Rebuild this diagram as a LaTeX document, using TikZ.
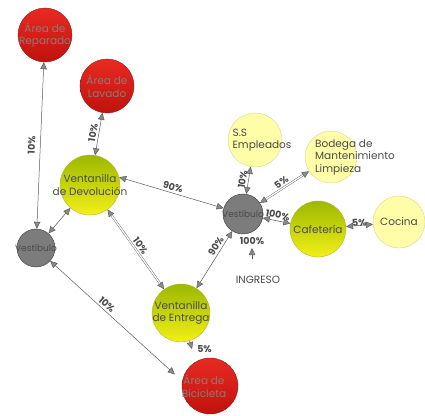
\documentclass[tikz,border=0pt]{standalone}
\usepackage{fontspec}
\setmainfont{Poppins}
\usetikzlibrary{arrows.meta, positioning}

\definecolor{rojoarriba}{HTML}{E82A22}
\definecolor{rojoabajo}{HTML}{C0120C}
\definecolor{rojoborde}{HTML}{8A1A14}
\definecolor{verdearriba}{HTML}{9CB800}
\definecolor{verdeabajo}{HTML}{F2F018}
\definecolor{verdeborde}{HTML}{B9B230}
\definecolor{crema}{HTML}{FFFDA8}
\definecolor{cremaborde}{HTML}{D9D68A}
\definecolor{grisbola}{HTML}{7C7C7C}
\definecolor{grisborde}{HTML}{3A3A3A}
\definecolor{linea}{HTML}{5A5A5A}
\definecolor{punta}{HTML}{8A8A8A}
\definecolor{texto}{HTML}{4A4A4A}
\definecolor{textorojo}{HTML}{8C7A78}

\tikzset{
    esfera/.style={circle, minimum size=#1, inner sep=0pt},
    roja/.style={esfera=#1, draw=rojoborde, top color=rojoarriba, bottom color=rojoabajo},
    verde/.style={esfera=#1, draw=verdeborde, top color=verdearriba, bottom color=verdeabajo},
    palida/.style={esfera=#1, draw=cremaborde, fill=crema},
    gris/.style={esfera=#1, draw=grisborde, fill=grisbola},
    lbl/.style={text=texto, font=\fontsize{10.5}{12.5}\selectfont, align=center, inner sep=0pt},
    lblroja/.style={lbl, text=textorojo},
    flujo/.style={<->, draw=linea, line width=0.5pt},
    doble/.style={flujo, double=white, double distance=1.3pt, line width=0.4pt},
    pct/.style={font=\fontsize{9.5}{10}\selectfont\bfseries, text=texto, sloped, above, inner sep=2pt}
}

\begin{document}
\begin{tikzpicture}[x=1pt, y=-1pt, >={Triangle[length=7pt, width=6.5pt, fill=punta]}]
    \useasboundingbox (0,0) rectangle (425,415);

    % 1. Areas (esferas)
    \node[roja=54pt, label={[lblroja]center:Área de\\Reparado}] (rep) at (45,35) {};
    \node[roja=54pt, label={[lblroja]center:Área de\\Lavado}] (lav) at (107,86) {};
    \node[verde=60pt, label={[lbl]center:Ventanilla\\de Devolución}] (dev) at (90,185) {};
    \node[gris=38pt, label={[lbl, font=\fontsize{9}{10}\selectfont]center:Vestíbulo}] (vl) at (36,248) {};
    \node[gris=40pt, label={[lbl, font=\fontsize{9}{10}\selectfont]center:Vestíbulo}] (vc) at (243,214) {};
    \node[palida=54pt, label={[lbl, align=left, xshift=7pt]center:S.S\\Empleados}] (ss) at (255,140) {};
    \node[palida=52pt, label={[lbl, align=left, xshift=24pt]center:Bodega de\\Mantenimiento\\Limpieza}] (bod) at (331,157) {};
    \node[verde=56pt, label={[lbl]center:Cafetería}] (caf) at (318,229) {};
    \node[palida=52pt, label={[lbl]center:Cocina}] (coc) at (399,222) {};
    \node[verde=58pt, label={[lbl]center:Ventanilla\\de Entrega}] (ent) at (181,313) {};
    \node[roja=56pt, label={[lblroja, xshift=-6pt]center:Área de\\Bicicleta}] (bic) at (210,386) {};
    \node[lbl] (ing) at (258,280) {INGRESO};

    % 2. Flujos entre areas
    \draw[flujo] (rep) -- node[pct, above=3pt] {10\%} (vl);
    \draw[flujo] (lav) -- node[pct] {10\%} (dev);
    \draw[flujo] (dev) -- (vl);
    \draw[flujo] (dev.15) -- node[pct] {90\%} (vc);
    \draw[doble] (dev) -- node[pct] {10\%} (ent);
    \draw[flujo] (vc) -- node[pct, pos=0.32] {90\%} (ent);
    \draw[flujo, shorten >=10pt] (vl) -- node[pct, pos=0.4] {10\%} (bic.170);
    \draw[flujo] (vc) -- node[pct] {10\%} (ss);
    \draw[doble] (vc) -- node[pct] {5\%} (bod);
    \draw[flujo] (vc) -- node[pct] {100\%} (caf);
    \draw[flujo] (caf) -- node[pct, above=-3pt] {5\%} (coc);

    % 3. Salidas cortas (ingreso y bicicleta)
    \coordinate (entpunta) at (192,349);
    \draw[->, draw=linea, line width=0.5pt] (ent) -- node[pct, pos=1, anchor=west, sloped=false, xshift=3pt] {5\%} (entpunta);
    \coordinate (ingcola) at (252,259);
    \coordinate (ingpunta) at (252,248);
    \draw[->, draw=linea, line width=0.5pt] (ingcola) -- (ingpunta) node[pct, sloped=false, above=1pt] (ingpct) {100\%};

\end{tikzpicture}
\end{document}
